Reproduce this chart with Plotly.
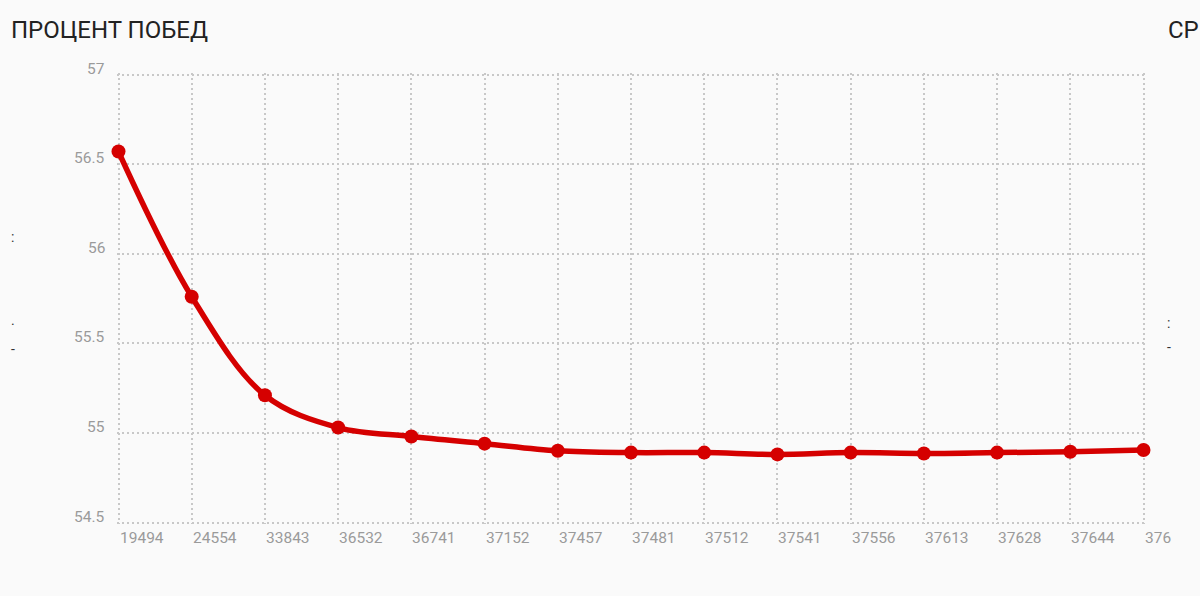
import plotly.graph_objects as go

categories = ["19494", "24554", "33843", "36532", "36741", "37152", "37457", "37481",
              "37512", "37541", "37556", "37613", "37628", "37644", "376"]
win_rate = [56.57, 55.76, 55.21, 55.03, 54.98, 54.94, 54.90, 54.89,
            54.89, 54.88, 54.89, 54.885, 54.89, 54.895, 54.905]
y_ticks = [54.5, 55, 55.5, 56, 56.5, 57]
y_tick_text = ["54.5", "55", "55.5", "56", "56.5", "57"]

W, H = 1200, 596
# desired inner grid box (pixels)
GX0, GX1, GY0, GY1 = 118, 1144, 74, 523
PAD = 1.5
L, R, T, B = GX0 - PAD, W - GX1 - PAD, GY0 - PAD, H - GY1 - PAD

n = len(categories) - 1
x_pad = PAD * n / (GX1 - GX0)
y_lo, y_hi = y_ticks[0], y_ticks[-1]
y_pad = PAD * (y_hi - y_lo) / (GY1 - GY0)

fig = go.Figure()
fig.add_trace(go.Scatter(
    x=list(range(len(categories))), y=win_rate,
    mode="lines+markers",
    line=dict(color="#d50000", width=5.5, shape="spline", smoothing=1),
    marker=dict(color="#d50000", size=14),
    cliponaxis=False, hoverinfo="skip", showlegend=False,
))

grid = "#c8c8c8"
fig.update_xaxes(range=[-x_pad, n + x_pad], tickvals=list(range(len(categories))),
                 showticklabels=False, showgrid=True, gridcolor=grid, griddash="2px,3px",
                 gridwidth=1.5, zeroline=False, showline=False)
fig.update_yaxes(range=[y_lo - y_pad, y_hi + y_pad], tickvals=y_ticks, showticklabels=False,
                 showgrid=True, gridcolor=grid, griddash="2px,3px", gridwidth=1.5,
                 zeroline=False, showline=False)

ann = []
for i, c in enumerate(categories):
    ann.append(dict(x=i, y=y_lo, xref="x", yref="y", text=c, showarrow=False,
                    xanchor="left", yanchor="middle", xshift=-1, yshift=-(538 - GY1),
                    font=dict(family="Roboto", size=15.5, color="#9a9a9a")))
for v, t in zip(y_ticks, y_tick_text):
    ann.append(dict(x=(106 - L) / (W - L - R), y=v, xref="paper", yref="y", text=t,
                    showarrow=False, xanchor="right", yanchor="middle", yshift=6,
                    font=dict(family="Roboto", size=15.5, color="#9a9a9a")))

def px(x, y, text, size, color, anchor="left"):
    return dict(x=(x - L) / (W - L - R), y=1 - (y - T) / (H - T - B), xref="paper", yref="paper",
                text=text, showarrow=False, xanchor=anchor, yanchor="middle",
                font=dict(family="Roboto", size=size, color=color))

ann.append(px(8, 29, "ПРОЦЕНТ ПОБЕД", 24, "#222222"))
ann.append(px(1167, 29, "СР", 24, "#222222"))
for (x, y, t) in [(8, 237, ":"), (8, 320, "."), (8, 349, "-"),
                  (1166, 323, ":"), (1166, 347, "-")]:
    ann.append(px(x, y, t, 14, "#333333"))

fig.update_layout(
    width=W, height=H,
    margin=dict(l=L, r=R, t=T, b=B),
    paper_bgcolor="#fafafa", plot_bgcolor="#fafafa",
    annotations=ann,
    font=dict(family="Roboto"),
)

fig.write_html("out.html", config={"displayModeBar": False},
               post_script="document.body.style.margin='0';document.body.style.background='#fafafa';document.body.style.overflow='hidden';")
